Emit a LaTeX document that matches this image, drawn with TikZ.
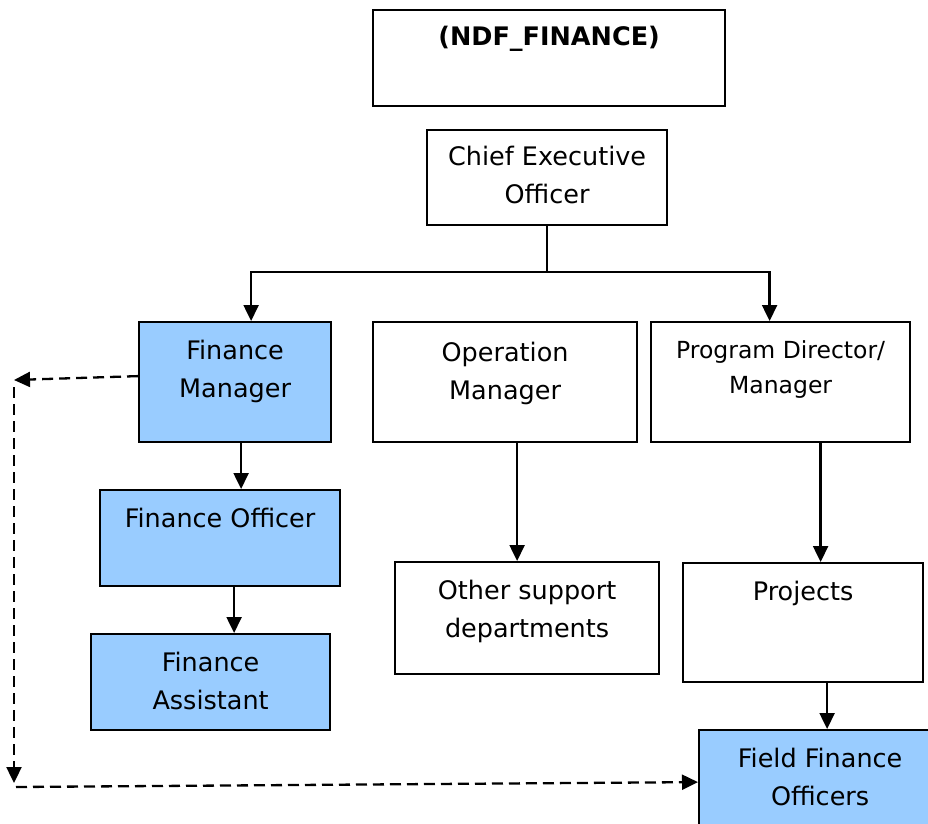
\documentclass[tikz,border=0pt]{standalone}
\usepackage{fontspec}
\setmainfont{DejaVu Sans}
\usepackage{xcolor}
\usetikzlibrary{arrows.meta,calc,positioning}

\definecolor{finblue}{RGB}{153,204,255}

\tikzset{
	box/.style={draw, line width=2.2pt, inner sep=0pt, anchor=north west},
	finbox/.style={box, fill=finblue},
	txt/.style={align=center, inner sep=0pt, font=\fontsize{25.5}{38}\selectfont},
	arr/.style={line width=2.3pt, -{Triangle[length=16pt,width=15pt]}},
	dsh/.style={arr, dash pattern=on 11pt off 6pt}
}

\begin{document}
\begin{tikzpicture}[x=1pt,y=-1pt]
		\useasboundingbox (0,0) rectangle (928,823);
		\clip (0,0) rectangle (928,823);
		% boxes
		\node[box, minimum width=352, minimum height=96] (ndf) at (372,9) {};
		\node[box, minimum width=240, minimum height=95] (ceo) at (426,129) {};
		\node[finbox, minimum width=192, minimum height=120] (fm) at (138,321) {};
		\node[box, minimum width=264, minimum height=120] (om) at (372,321) {};
		\node[box, minimum width=259, minimum height=120] (pd) at (650,321) {};
		\node[finbox, minimum width=240, minimum height=96] (fo) at (99,489) {};
		\node[finbox, minimum width=239, minimum height=96] (fa) at (90,633) {};
		\node[box, minimum width=264, minimum height=112] (osd) at (394,561) {};
		\node[box, minimum width=240, minimum height=119] (prj) at (682,562) {};
		\node[finbox, minimum width=242, minimum height=120] (ffo) at (698,729) {};
		% labels
		\node[txt, below=17pt of ndf.north] (ndf-t) {\bfseries (NDF\_FINANCE)};
		\node[txt, below=17pt of ceo.north] (ceo-t) {Chief Executive\\Officer};
		\node[txt, below=19pt of fm.north] (fm-t) {Finance\\Manager};
		\node[txt, below=21pt of om.north] (om-t) {Operation\\Manager};
		\node[txt, below=19pt of pd.north, font=\fontsize{23.5}{35}\selectfont] (pd-t) {Program Director/\\Manager};
		\node[txt, below=19pt of fo.north] (fo-t) {Finance Officer};
		\node[txt, below=19pt of fa.north] (fa-t) {Finance\\Assistant};
		\node[txt, below=19pt of osd.north] (osd-t) {Other support\\departments};
		\node[txt, below=19pt of prj.north] (prj-t) {Projects};
		\node[txt, below=19pt of ffo.north] (ffo-t) {Field Finance\\Officers};
		% reporting lines
		\coordinate (bar) at (ceo.south |- 0,272);
		\draw[line width=2.3pt] (ceo.south) -- (bar);
		\draw[arr] (bar) -| ([xshift=16pt]fm.north);
		\draw[arr] (bar) -| ([xshift=-11pt]pd.north);
		\draw[arr] ([xshift=6pt]fm.south) -- ([xshift=6pt]fm.south |- fo.north);
		\draw[arr] ([xshift=14pt]fo.south) -- ([xshift=14pt]fo.south |- fa.north);
		\draw[arr] ([xshift=12pt]om.south) -- ([xshift=12pt]om.south |- osd.north);
		\draw[arr] ([xshift=40pt]pd.south) -- ([xshift=40pt]pd.south |- prj.north);
		\draw[arr] ([xshift=24pt]prj.south) -- ([xshift=24pt]prj.south |- ffo.north);
		% dashed link to the field
		\coordinate (dl) at (14,380);
		\coordinate (dtop) at (14,387);
		\coordinate (dbot) at (14,783);
		\coordinate (dstart) at (16,787);
		\draw[dsh] ([yshift=6pt]fm.west) -- (dl);
		\draw[dsh] (dtop) -- (dbot);
		\draw[dsh] (dstart) -- ([yshift=8pt]ffo.west);
\end{tikzpicture}
\end{document}
